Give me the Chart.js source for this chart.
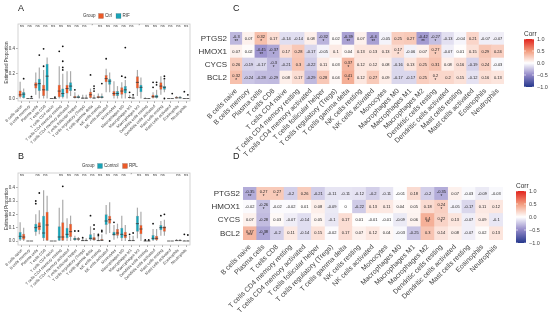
<!DOCTYPE html>
<html><head><meta charset="utf-8">
<script src="https://cdn.jsdelivr.net/npm/chart.js@4.4.1/dist/chart.umd.min.js"></script>
<style>
html,body{margin:0;padding:0;background:#fff;}
#wrap{position:relative;width:550px;height:322px;overflow:hidden;background:#fff;}
canvas{position:absolute;}
</style></head><body>
<div id="wrap">
<canvas id="cA" width="200" height="150" style="left:0px;top:0px;width:200px;height:150px"></canvas>
<canvas id="cB" width="200" height="172" style="left:0px;top:150px;width:200px;height:172px"></canvas>
<canvas id="cC" width="355" height="158" style="left:195px;top:0px;width:355px;height:158px"></canvas>
<canvas id="cD" width="355" height="172" style="left:195px;top:150px;width:355px;height:172px"></canvas>
</div>
<script>
// ---------------- DATA ----------------
const cellTypes = ['B cells naive','B cells memory','Plasma cells','T cells CD8','T cells CD4 naive','T cells CD4 memory resting','T cells CD4 memory activated','T cells follicular helper','T cells regulatory (Tregs)','T cells gamma delta','NK cells resting','NK cells activated','Monocytes','Macrophages M0','Macrophages M1','Macrophages M2','Dendritic cells resting','Dendritic cells activated','Mast cells resting','Mast cells activated','Eosinophils','Neutrophils'];
const cellTypesD = ['B cells naive','Plasma cells','T cells CD8','T cells CD4 memory resting','T cells CD4 memory activated','T cells follicular helper','T cells regulatory (Tregs)','T cells gamma delta','NK cells resting','NK cells activated','Monocytes','Macrophages M0','Macrophages M1','Macrophages M2','Dendritic cells resting','Dendritic cells activated','Mast cells resting','Eosinophils','Neutrophils'];
const genes = ['PTGS2','HMOX1','CYCS','BCL2'];

// Panel A: Ctrl vs RIF
const ctrlA_lo  = [0,0,0.03,0,0,0,0,0,0,0,0,0.05,0,0,0,0.02,0,0,0.03,0,0,0];
const ctrlA_q1  = [0.013,0,0.08,0.02,0,0.01,0.04,0.005,0,0.005,0.005,0.13,0.02,0.03,0.005,0.08,0,0.005,0.07,0,0,0];
const ctrlA_med = [0.03,0,0.11,0.07,0,0.06,0.08,0.01,0.002,0.03,0.01,0.16,0.04,0.06,0.008,0.13,0,0.015,0.1,0,0.005,0];
const ctrlA_q3  = [0.065,0,0.13,0.11,0,0.11,0.11,0.02,0.01,0.055,0.02,0.19,0.06,0.09,0.015,0.18,0.003,0.03,0.13,0,0.015,0];
const ctrlA_hi  = [0.135,0,0.21,0.23,0,0.26,0.22,0.05,0.03,0.08,0.04,0.24,0.14,0.13,0.03,0.23,0.01,0.05,0.18,0,0.02,0.005];
const ctrlA_out = [[],[],[],[0.26,0.40],[],[0.38],[],[0.07],[],[0.19],[],[0.32],[],[0.18],[0.05],[],[],[0.09,0.13],[],[],[],[0.055]];
const rifA_lo  = [0,0,0,0,0,0,0.02,0,0,0,0,0.05,0,0,0,0,0,0,0.05,0,0,0];
const rifA_q1  = [0.005,0,0.06,0.06,0,0.01,0.06,0.005,0,0,0.005,0.11,0.02,0.04,0,0.05,0,0.005,0.07,0,0,0];
const rifA_med = [0.035,0,0.12,0.18,0,0.04,0.1,0.01,0.002,0.003,0.01,0.14,0.04,0.07,0.003,0.09,0,0.015,0.09,0,0.005,0];
const rifA_q3  = [0.052,0,0.16,0.28,0,0.08,0.13,0.02,0.01,0.01,0.02,0.16,0.06,0.1,0.01,0.11,0.002,0.03,0.1,0,0.015,0];
const rifA_hi  = [0.08,0.005,0.25,0.33,0.005,0.2,0.22,0.03,0.03,0.03,0.04,0.21,0.1,0.15,0.02,0.17,0.005,0.07,0.15,0,0.02,0.005];
const rifA_out = [[0.16],[0.015],[0.35],[],[0.01],[0.23,0.25,0.30,0.42],[],[],[],[0.06,0.08,0.1],[0.12],[],[],[0.17,0.41],[0.03],[],[],[0.11,0.13],[0,0.16,0.18],[0.04],[],[0.03]];
const sigA = ['ns','ns','ns','ns','ns','ns','ns','ns','ns','*','ns','ns','ns','ns','ns','*','ns','ns','ns','ns','ns','ns'];

// Panel B: Control vs RPL
const ctlB_lo  = [0,0,0.04,0,0,0,0,0,0,0,0,0.05,0.01,0,0,0.02,0,0,0.04,0,0,0];
const ctlB_q1  = [0.01,0,0.067,0.02,0,0,0.02,0.005,0,0.01,0,0.12,0.04,0.02,0,0.07,0,0.005,0.08,0,0,0];
const ctlB_med = [0.035,0,0.1,0.06,0,0.03,0.05,0.015,0.003,0.02,0.003,0.15,0.05,0.05,0.003,0.13,0,0.02,0.1,0,0.003,0];
const ctlB_q3  = [0.067,0,0.13,0.19,0,0.11,0.1,0.025,0.01,0.05,0.01,0.2,0.07,0.1,0.01,0.19,0.003,0.045,0.12,0,0.01,0.003];
const ctlB_hi  = [0.14,0,0.2,0.38,0,0.25,0.17,0.04,0.02,0.11,0.03,0.27,0.12,0.19,0.04,0.25,0.005,0.09,0.15,0,0.015,0.005];
const ctlB_out = [[],[],[0.28,0.3],[],[],[],[],[0.075],[0.025],[0.19],[0.04,0.05],[],[0.14],[],[0.05],[],[0.008],[0.13],[0.19],[],[],[0.05]];
const rplB_lo  = [0,0,0.05,0,0,0,0,0,0,0,0,0.06,0.02,0,0,0,0,0,0.04,0,0,0];
const rplB_q1  = [0.01,0,0.08,0,0,0,0.03,0.01,0,0.005,0,0.13,0.04,0.02,0,0.05,0,0.005,0.07,0,0,0];
const rplB_med = [0.03,0,0.11,0.12,0,0.03,0.07,0.015,0.003,0.015,0.005,0.16,0.06,0.04,0.003,0.09,0,0.02,0.1,0,0.003,0];
const rplB_q3  = [0.055,0,0.14,0.22,0,0.14,0.13,0.02,0.01,0.03,0.015,0.19,0.09,0.07,0.01,0.12,0.003,0.04,0.11,0,0.01,0.003];
const rplB_hi  = [0.1,0,0.23,0.34,0,0.31,0.19,0.03,0.02,0.06,0.05,0.29,0.13,0.12,0.04,0.22,0.005,0.09,0.16,0,0.015,0.005];
const rplB_out = [[],[],[0.36],[],[],[0.41],[],[0.075],[],[0.09,0.12],[0.07,0.08],[0],[],[],[0.06],[],[0.008],[],[0.2],[],[],[0.045]];
const sigB = ['ns','','ns','ns','','ns','ns','ns','ns','ns','ns','ns','ns','ns','*','ns','ns','ns','ns','','ns','ns'];

// Panel C correlations
const corrC_PTGS2 = [-0.3,0.07,0.32,0.17,-0.14,-0.14,0.08,-0.32,0.02,-0.39,0.07,-0.4,-0.05,0.25,0.27,-0.42,-0.27,-0.13,-0.04,0.21,-0.07,-0.07];
const corrC_HMOX1 = [0.07,0.02,-0.45,-0.37,0.17,0.28,-0.17,-0.05,0.1,0.04,0.13,0.13,0.13,0.17,-0.06,0.07,0.27,-0.07,0.01,0.15,0.29,0.24];
const corrC_CYCS  = [0.26,-0.19,-0.17,-0.3,-0.21,0.3,-0.22,0.11,0.03,0.37,0.12,0.12,0.08,-0.16,0.13,0.25,0.31,0.08,0.16,-0.19,0.24,-0.03];
const corrC_BCL2  = [0.32,-0.24,-0.28,-0.29,0.08,0.17,-0.29,0.28,0.04,0.41,0.12,0.27,0.09,-0.17,-0.17,0.25,0.2,0.2,0.15,-0.12,0.16,0.13];
const sigC_PTGS2 = ['**','','*','','','','','*','','**','','**','','','','**','*','','','','',''];
const sigC_HMOX1 = ['','','**','*','','','','','','','','','','*','','','*','','','','',''];
const sigC_CYCS  = ['','','','*','','','','','','*','','','','','','','','','','','',''];
const sigC_BCL2  = ['*','','','','','','','','','*','','','','','','','*','','','','',''];

// Panel D correlations
const corrD_PTGS2 = [-0.35,0.27,0.27,-0.2,0.26,-0.21,-0.11,-0.11,-0.12,-0.2,-0.11,-0.01,0.18,-0.2,-0.35,0.07,-0.03,-0.09,-0.03];
const corrD_HMOX1 = [-0.02,-0.26,-0.02,-0.02,0.01,0.08,-0.09,0,-0.22,0.13,0.11,0.04,0.05,0.18,0.24,-0.05,-0.17,0.11,0.12];
const corrD_CYCS  = [0.07,-0.28,0.03,-0.07,-0.14,0.05,-0.1,0.17,0.01,-0.01,-0.01,-0.09,0.06,0.4,0.22,0.13,-0.07,0.09,-0.1];
const corrD_BCL2  = [0.37,-0.38,-0.2,0.11,-0.14,0.15,-0.02,0.17,0.07,0.12,0.04,-0.03,-0.25,0.3,0.14,0.08,-0.07,0.02,0.13];
const sigD_PTGS2 = ['**','*','*','','','','','','','','','','','','*','','','',''];
const sigD_HMOX1 = ['','*','','','','','','','','','','','','','*','','','',''];
const sigD_CYCS  = ['','','','','','','','','','','','','','**','*','','','',''];
const sigD_BCL2  = ['***','*','','','','','','','','','','','','','','','','',''];

const corrTicks = [1.0, 0.5, 0.0, -0.5, -1.0];

// ---------------- STYLE ----------------
const FONT = "'Liberation Sans', Arial, Helvetica, sans-serif";
Chart.defaults.font.family = FONT;
Chart.defaults.color = '#333';
const RED = '#EB5A28', TEAL = '#19A3B7';

function corrColor(v) {
  const stops = [[-1,[36,55,140]],[-0.5,[146,136,200]],[0,[255,255,255]],[0.5,[242,156,126]],[1,[226,35,28]]];
  for (let k = 0; k < stops.length - 1; k++) {
    const a = stops[k][0], ca = stops[k][1], b = stops[k+1][0], cb = stops[k+1][1];
    if (v <= b) {
      const t = Math.max(0, (v - a) / (b - a));
      return 'rgb(' + ca.map((c, j) => Math.round(c + (cb[j] - c) * t)).join(',') + ')';
    }
  }
  return 'rgb(226,35,28)';
}

function noPad(s) { s.paddingLeft = 0; s.paddingRight = 0; }

// ---------------- BOXPLOT CHART ----------------
function boxChart(id, labels, series, sig, geo) {
  const extras = {
    id: 'boxExtras_' + id,
    beforeDatasetsDraw(chart) {
      const ctx = chart.ctx, ys = chart.scales.y, a = chart.chartArea;
      ctx.save();
      ctx.fillStyle = '#fff'; ctx.fillRect(a.left, a.top, a.right - a.left, a.bottom - a.top);
      ctx.strokeStyle = '#ababab'; ctx.lineWidth = 1.2;
      series.forEach((s, d) => {
        chart.getDatasetMeta(d).data.forEach((el, i) => {
          ctx.beginPath();
          ctx.moveTo(el.x, ys.getPixelForValue(s.lo[i]));
          ctx.lineTo(el.x, ys.getPixelForValue(s.hi[i]));
          ctx.stroke();
        });
      });
      ctx.restore();
    },
    afterDatasetsDraw(chart) {
      const ctx = chart.ctx, ys = chart.scales.y, xs = chart.scales.x, a = chart.chartArea;
      ctx.save();
      series.forEach((s, d) => {
        chart.getDatasetMeta(d).data.forEach((el, i) => {
          const w = el.width;
          const ym = ys.getPixelForValue(s.med[i]);
          ctx.strokeStyle = '#3a3a3a'; ctx.lineWidth = 0.8;
          ctx.beginPath(); ctx.moveTo(el.x - w/2, ym); ctx.lineTo(el.x + w/2, ym); ctx.stroke();
          ctx.fillStyle = '#111';
          s.out[i].forEach(v => {
            ctx.beginPath(); ctx.arc(el.x, ys.getPixelForValue(v), 0.9, 0, Math.PI*2); ctx.fill();
          });
        });
      });
      ctx.fillStyle = '#333'; ctx.font = '4px ' + FONT; ctx.textAlign = 'center'; ctx.textBaseline = 'middle';
      sig.forEach((t, i) => { if (t) ctx.fillText(t, xs.getPixelForValue(i), ys.getPixelForValue(geo.sigY)); });
      ctx.strokeStyle = '#c8c8c8'; ctx.lineWidth = 0.8;
      ctx.strokeRect(a.left, a.top, a.right - a.left, a.bottom - a.top);
      ctx.restore();
    },
    afterDraw(chart) {
      const ctx = chart.ctx;
      ctx.save();
      ctx.fillStyle = '#222'; ctx.font = '9px ' + FONT; ctx.textAlign = 'left'; ctx.textBaseline = 'top';
      ctx.fillText(geo.letter, geo.letterX, geo.letterY);
      ctx.font = '4.5px ' + FONT; ctx.textBaseline = 'middle'; ctx.fillStyle = '#333';
      let x = geo.legX;
      ctx.fillText('Group', x, geo.legY); x += ctx.measureText('Group').width + 3;
      series.forEach(s => {
        ctx.fillStyle = s.color; ctx.fillRect(x, geo.legY - 2.5, 5, 5);
        ctx.strokeStyle = 'rgba(80,80,80,0.5)'; ctx.lineWidth = 0.4; ctx.strokeRect(x, geo.legY - 2.5, 5, 5);
        x += 6.5; ctx.fillStyle = '#333'; ctx.fillText(s.name, x, geo.legY);
        x += ctx.measureText(s.name).width + 4;
      });
      ctx.restore();
    }
  };
  return new Chart(document.getElementById(id), {
    type: 'bar',
    data: {
      labels: labels,
      datasets: series.map(s => ({
        label: s.name,
        data: labels.map((_, i) => [s.q1[i], s.q3[i]]),
        backgroundColor: s.color,
        borderColor: 'rgba(70,70,70,0.45)',
        borderWidth: 0.5,
        borderSkipped: false,
        barPercentage: 0.9,
        categoryPercentage: 0.9
      }))
    },
    options: {
      responsive: false, animation: false, devicePixelRatio: 1, events: [],
      layout: { padding: { top: geo.padTop, right: geo.padRight, left: 4, bottom: 0 } },
      plugins: { legend: { display: false }, tooltip: { enabled: false } },
      scales: {
        x: {
          grid: { drawOnChartArea: false, tickLength: 2, offset: false, color: '#777', lineWidth: 0.6 },
          border: { display: false },
          ticks: { autoSkip: false, minRotation: 45, maxRotation: 45, font: { size: 4 }, color: '#444', padding: 1 },
          afterFit: s => { s.height = geo.xHeight; noPad(s); }
        },
        y: {
          min: geo.yMin, max: geo.yMax,
          afterBuildTicks: s => { s.ticks = geo.yTicks.map(v => ({ value: v })); },
          grid: { drawOnChartArea: false, tickLength: 2, color: '#777', lineWidth: 0.6 },
          border: { display: false },
          ticks: { font: { size: 4.5 }, color: '#444', padding: 1, callback: v => Number(v).toFixed(1) },
          title: { display: true, text: 'Estimated Proportion', font: { size: 4.5 }, color: '#333', padding: 0 },
          afterFit: s => { s.width = 14; }
        }
      }
    },
    plugins: [extras]
  });
}

boxChart('cA', cellTypes, [
  { name: 'Ctrl', color: RED, lo: ctrlA_lo, q1: ctrlA_q1, med: ctrlA_med, q3: ctrlA_q3, hi: ctrlA_hi, out: ctrlA_out },
  { name: 'RIF', color: TEAL, lo: rifA_lo, q1: rifA_q1, med: rifA_med, q3: rifA_q3, hi: rifA_hi, out: rifA_out }
], sigA, { padTop: 24, padRight: 10, xHeight: 49, yMin: -0.02, yMax: 0.6, yTicks: [0, 0.2, 0.4], sigY: 0.583,
  letter: 'A', letterX: 18, letterY: 4, legX: 83, legY: 16 });

boxChart('cB', cellTypes, [
  { name: 'Control', color: TEAL, lo: ctlB_lo, q1: ctlB_q1, med: ctlB_med, q3: ctlB_q3, hi: ctlB_hi, out: ctlB_out },
  { name: 'RPL', color: RED, lo: rplB_lo, q1: rplB_q1, med: rplB_med, q3: rplB_q3, hi: rplB_hi, out: rplB_out }
], sigB, { padTop: 23, padRight: 10, xHeight: 77, yMin: -0.03, yMax: 0.51, yTicks: [0, 0.1, 0.2, 0.3, 0.4], sigY: 0.495,
  letter: 'B', letterX: 18, letterY: 2, legX: 82, legY: 16 });

// ---------------- HEATMAP CHART ----------------
function heatChart(id, cols, rowVals, rowSig, geo) {
  const nR = genes.length;
  const extras = {
    id: 'heatExtras_' + id,
    afterDatasetsDraw(chart) {
      const ctx = chart.ctx;
      ctx.save();
      ctx.fillStyle = '#222'; ctx.textAlign = 'center'; ctx.textBaseline = 'middle';
      for (let d = 0; d < nR; d++) {
        const r = nR - 1 - d;
        chart.getDatasetMeta(d).data.forEach((el, i) => {
          const p = el.getProps(['x', 'y', 'base'], true);
          const cy = (p.y + p.base) / 2;
          const st = rowSig[r][i];
          ctx.font = '4px ' + FONT;
          ctx.fillText(String(rowVals[r][i]), p.x, st ? cy - 1.5 : cy);
          if (st) { ctx.font = '4.5px ' + FONT; ctx.fillText(st, p.x, cy + 2.8); }
        });
      }
      ctx.restore();
    },
    afterDraw(chart) {
      const ctx = chart.ctx;
      ctx.save();
      ctx.fillStyle = '#222'; ctx.font = '9px ' + FONT; ctx.textAlign = 'left'; ctx.textBaseline = 'top';
      ctx.fillText(geo.letter, geo.letterX, geo.letterY);
      const x0 = geo.cbX, t = geo.cbTop, b = geo.cbBottom, w = 10;
      const g = ctx.createLinearGradient(0, t, 0, b);
      for (let k = 0; k <= 20; k++) { const v = 1 - k / 10; g.addColorStop(k / 20, corrColor(v)); }
      ctx.fillStyle = g; ctx.fillRect(x0, t, w, b - t);
      ctx.font = '6.5px ' + FONT; ctx.fillStyle = '#333'; ctx.textBaseline = 'bottom';
      ctx.fillText('Corr', x0, t - 1.5);
      ctx.font = '5.5px ' + FONT; ctx.textBaseline = 'middle'; ctx.fillStyle = '#444';
      corrTicks.forEach(v => {
        const y = t + (1 - v) / 2 * (b - t);
        ctx.strokeStyle = '#fff'; ctx.lineWidth = 0.6;
        ctx.beginPath(); ctx.moveTo(x0, y); ctx.lineTo(x0 + 2, y); ctx.moveTo(x0 + w - 2, y); ctx.lineTo(x0 + w, y); ctx.stroke();
        ctx.fillText((v < 0 ? '\u2212' : '') + Math.abs(v).toFixed(1), x0 + w + 3, y);
      });
      ctx.restore();
    }
  };
  const datasets = [];
  for (let d = 0; d < nR; d++) {
    const r = nR - 1 - d;
    datasets.push({
      label: genes[r],
      data: cols.map(() => 1),
      backgroundColor: rowVals[r].map(corrColor),
      borderWidth: 0,
      barPercentage: 1,
      categoryPercentage: 1,
      stack: 'h'
    });
  }
  return new Chart(document.getElementById(id), {
    type: 'bar',
    data: { labels: cols, datasets: datasets },
    options: {
      responsive: false, animation: false, devicePixelRatio: 1, events: [],
      layout: { padding: { top: geo.padTop, right: geo.padRight, left: 0, bottom: 0 } },
      plugins: { legend: { display: false }, tooltip: { enabled: false } },
      scales: {
        x: {
          stacked: true,
          grid: { display: false, drawTicks: false }, border: { display: false },
          ticks: { autoSkip: false, minRotation: 45, maxRotation: 45, font: { size: 7 }, color: '#444', padding: 3 },
          afterFit: s => { s.height = geo.xHeight; noPad(s); }
        },
        y: {
          stacked: true, min: 0, max: nR,
          afterBuildTicks: s => { s.ticks = genes.map((_, k) => ({ value: k + 0.5 })); },
          grid: { display: false, drawTicks: false }, border: { display: false },
          ticks: { font: { size: 8 }, color: '#333', padding: 3, callback: v => genes[nR - 1 - Math.floor(v)] },
          afterFit: s => { s.width = geo.yWidth; }
        }
      }
    },
    plugins: [extras]
  });
}

heatChart('cC', cellTypes, [corrC_PTGS2, corrC_HMOX1, corrC_CYCS, corrC_BCL2],
  [sigC_PTGS2, sigC_HMOX1, sigC_CYCS, sigC_BCL2],
  { padTop: 32, padRight: 46, xHeight: 74, yWidth: 35, letter: 'C', letterX: 38, letterY: 4, cbX: 329, cbTop: 39, cbBottom: 87 });

heatChart('cD', cellTypesD, [corrD_PTGS2, corrD_HMOX1, corrD_CYCS, corrD_BCL2],
  [sigD_PTGS2, sigD_HMOX1, sigD_CYCS, sigD_BCL2],
  { padTop: 37, padRight: 47, xHeight: 82, yWidth: 48, letter: 'D', letterX: 38, letterY: 2, cbX: 321, cbTop: 41, cbBottom: 93 });
</script>
</body></html>
